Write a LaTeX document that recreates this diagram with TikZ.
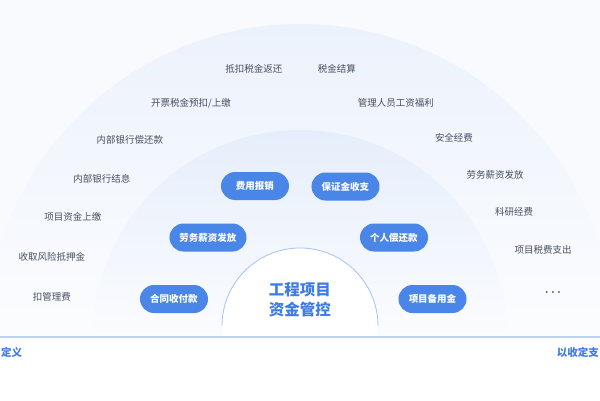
\documentclass[tikz,border=0pt]{standalone}
\usepackage{fontspec}
\setmainfont{Noto Sans CJK SC}
\usetikzlibrary{positioning}
\definecolor{bgpale}{HTML}{F8FAFE}
\definecolor{ringout}{HTML}{ECF2FC}
\definecolor{ringmid}{HTML}{E6EEFB}
\definecolor{pillblue}{HTML}{4A86E8}
\definecolor{titleblue}{HTML}{3D7BE6}
\definecolor{itemgray}{HTML}{474E5E}
\definecolor{baseblue}{HTML}{BED2F6}

\begin{document}
\begin{tikzpicture}[x=1pt,y=1pt,
    item/.style={text=itemgray, font=\fontsize{9.5}{11}\selectfont},
    pill/.style={fill=pillblue, text=white, rounded corners=14pt, minimum height=28pt,
      minimum width=68pt, inner xsep=10pt, font=\fontsize{9.5}{11}\selectfont\bfseries}]
    % background and rings
    \useasboundingbox (-300,-63) rectangle (300,337);
    \fill[bgpale] (-300,-63) rectangle (300,337);
    \shade[top color=ringout, bottom color=bgpale!50!white] (-313,0) arc (180:0:313) -- cycle;
    \shade[top color=ringmid, bottom color=bgpale!60!white] (-207,0) arc (180:0:207) -- cycle;
    \fill[white] (-300,-63) rectangle (300,0);
    \fill[white] (-78,0) -- (-78,11) arc (180:0:78) -- (78,0) -- cycle;
    \draw[pillblue!50, line width=0.8pt] (-78,11) arc (180:0:78);
    \draw[baseblue, line width=1.2pt] (-300,0) -- (300,0);
    % centre
    \node[text=titleblue, align=center, font=\fontsize{15.5}{20}\selectfont\bfseries] (core) at (0,37) {工程项目\\资金管控};
    % inner ring
    \node[pill] (baoxiao) at (-45,151) {费用报销};
    \node[pill] (baozheng) at (45.5,150.5) {保证金收支};
    \node[pill] (laowu) at (-92,99.5) {劳务薪资发放};
    \node[pill] (geren) at (94,99.5) {个人偿还款};
    \node[pill] (hetong) at (-126,38) {合同收付款};
    \node[pill] (beiyong) at (132.5,38) {项目备用金};
    % outer ring
    \node[item] (dikou) at (-46,268) {抵扣税金返还};
    \node[item] (shuijin) at (37,268) {税金结算};
    \node[item] (kaipiao) at (-109,234) {开票税金预扣/上缴};
    \node[item] (guanli) at (96,234) {管理人员工资福利};
    \node[item] (changhuan) at (-170,197) {内部银行偿还款};
    \node[item] (anquan) at (154,199) {安全经费};
    \node[item] (jiexi) at (-198,158) {内部银行结息};
    \node[item] (xinzi) at (195,162) {劳务薪资发放};
    \node[item] (shangjiao) at (-227,120) {项目资金上缴};
    \node[item] (keyan) at (214,125) {科研经费};
    \node[item] (diya) at (-248,80) {收取风险抵押金};
    \node[item] (shuifei) at (243,87) {项目税费支出};
    \node[item] (guanlifei) at (-248,40) {扣管理费};
    \node[item, font=\fontsize{12}{12}\selectfont\boldmath] (more) at (253,44) {$\cdots$};
    % bottom captions
    \node[text=titleblue, anchor=west, inner xsep=1pt, font=\fontsize{10.5}{12}\selectfont\bfseries] (dingyi) at (-300,-15) {定义};
    \node[text=titleblue, anchor=east, inner xsep=1pt, font=\fontsize{10.5}{12}\selectfont\bfseries] (shouzhi) at (300,-15) {以收定支};
\end{tikzpicture}
\end{document}
